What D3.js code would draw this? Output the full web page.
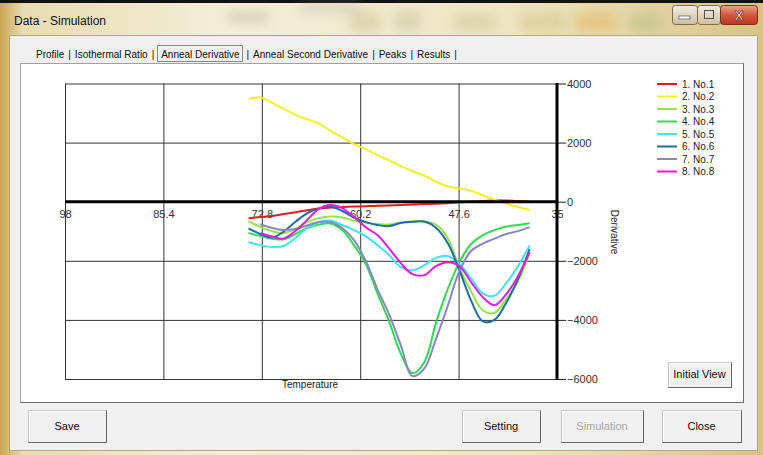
<!DOCTYPE html>
<html><head><meta charset="utf-8">
<script src="https://cdn.jsdelivr.net/npm/d3@7/dist/d3.min.js"></script>
<style>
html,body{margin:0;padding:0;overflow:hidden;background:#fff}
svg text{font-family:"Liberation Sans",Arial,sans-serif}
</style></head><body>
<svg id="c" width="763" height="455"></svg>
<script>
// ---------- data ----------
const temps = [74.5,73,71.5,70,68.5,67,65.5,64,62.5,61,59.5,58,56.5,55,53.5,52,50.5,49,47.5,46,44.5,43,41.5,40,38.5];
const no1 = [-560,-520,-480,-420,-360,-290,-230,-200,-180,-165,-150,-140,-125,-110,-95,-80,-70,-50,-20,0,20,50,40,20,10];
const no2 = [3480,3530,3350,3140,2940,2790,2650,2400,2180,1950,1780,1575,1400,1210,1030,880,680,520,450,365,220,75,-65,-180,-280];
const no3 = [-655,-850,-995,-1060,-925,-690,-555,-500,-535,-640,-705,-755,-775,-705,-670,-670,-775,-1230,-2250,-3030,-3680,-3760,-3300,-2700,-1720];
const no4 = [-1060,-1160,-1250,-1275,-1095,-890,-775,-740,-960,-1470,-2100,-3100,-4050,-5150,-5800,-5430,-4100,-2960,-2045,-1430,-1130,-960,-840,-790,-730];
const no5 = [-1375,-1470,-1535,-1500,-1230,-890,-690,-640,-790,-960,-1165,-1470,-1805,-2215,-2320,-2150,-1900,-1840,-2100,-2590,-3100,-3180,-2755,-2180,-1485];
const no6 = [-900,-1095,-1215,-1015,-680,-395,-225,-170,-315,-535,-690,-790,-825,-720,-680,-670,-880,-1400,-2315,-3350,-4050,-4000,-3420,-2620,-1600];
const no7 = [null,-765,-890,-960,-925,-805,-690,-690,-890,-1300,-2000,-2960,-3810,-4860,-5900,-5650,-4650,-3535,-2350,-1670,-1415,-1250,-1095,-995,-860];
const no8 = [null,-1070,-1180,-1250,-990,-620,-240,-110,-215,-520,-860,-1130,-1580,-2080,-2450,-2485,-2180,-2045,-2180,-2720,-3230,-3500,-3130,-2520,-1705];
const seriesNames = ["1. No.1","2. No.2","3. No.3","4. No.4","5. No.5","6. No.6","7. No.7","8. No.8"];
const seriesColors = ["#e01e1e","#f4f01c","#98e43e","#2fdc52","#3ee6f0","#1b6ea6","#8a86c2","#e21ce0"];
const xTicks = [98,85.4,72.8,60.2,47.6,35];
const xTickLabels = ["98","85.4","72.8","60.2","47.6","35"];
const yTicks = [4000,2000,0,-2000,-4000,-6000];
const tabNames = ["Profile","Isothermal Ratio","Anneal Derivative","Anneal Second Derivative","Peaks","Results"];
const buttonNames = ["Save","Setting","Simulation","Close"];

const series = [no1,no2,no3,no4,no5,no6,no7,no8];

// ---------- chrome ----------
const svg = d3.select("#c");
const defs = svg.append("defs");
const g1 = defs.append("linearGradient").attr("id","frame").attr("x1",0).attr("x2",1).attr("y1",0).attr("y2",0);
g1.append("stop").attr("offset",0).attr("stop-color","#c9a553");
g1.append("stop").attr("offset",0.03).attr("stop-color","#e9dcb2");
g1.append("stop").attr("offset",0.3).attr("stop-color","#f4eed8");
g1.append("stop").attr("offset",0.7).attr("stop-color","#eee4c0");
g1.append("stop").attr("offset",1).attr("stop-color","#d9c284");
defs.append("filter").attr("id","blur").attr("x","-50%").attr("y","-50%").attr("width","200%").attr("height","200%")
  .append("feGaussianBlur").attr("stdDeviation",6);
const gMin = defs.append("linearGradient").attr("id","wb").attr("x1",0).attr("x2",0).attr("y1",0).attr("y2",1);
gMin.append("stop").attr("offset",0).attr("stop-color","#f4eee0");
gMin.append("stop").attr("offset",1).attr("stop-color","#cdbf9f");
const gCl = defs.append("linearGradient").attr("id","wc").attr("x1",0).attr("x2",0).attr("y1",0).attr("y2",1);
gCl.append("stop").attr("offset",0).attr("stop-color","#e9a58f");
gCl.append("stop").attr("offset",0.5).attr("stop-color","#d05a3c");
gCl.append("stop").attr("offset",1).attr("stop-color","#c0341c");

svg.append("rect").attr("width",763).attr("height",455).attr("fill","url(#frame)");
svg.append("rect").attr("width",763).attr("height",3).attr("fill","#111");
// blurred background icons
const blobs = [[228,12,40,10,"#b0a480"],[350,12,30,20,"#c4bc88"],[395,12,25,18,"#bdbb95"],[455,14,40,16,"#c8bc90"],[520,12,45,20,"#cfc080"],[575,12,40,20,"#e0b050"],[630,14,30,18,"#a8bc78"],[300,5,60,6,"#a0a0a0"]];
svg.append("g").attr("filter","url(#blur)").attr("opacity",0.45).selectAll("rect").data(blobs).join("rect")
  .attr("x",d=>d[0]).attr("y",d=>d[1]).attr("width",d=>d[2]).attr("height",d=>d[3]).attr("fill",d=>d[4]);
svg.append("text").attr("x",14).attr("y",25).attr("font-size",12).attr("fill","#111").text("Data - Simulation");
// window buttons
svg.append("rect").attr("x",672.5).attr("y",5.5).attr("width",25).attr("height",19).attr("rx",3).attr("fill","url(#wb)").attr("stroke","#7d6e52");
svg.append("rect").attr("x",679).attr("y",16).attr("width",11).attr("height",3).attr("fill","#fff").attr("stroke","#555").attr("stroke-width",0.7);
svg.append("rect").attr("x",697.5).attr("y",5.5).attr("width",23).attr("height",19).attr("rx",3).attr("fill","url(#wb)").attr("stroke","#7d6e52");
svg.append("rect").attr("x",704.5).attr("y",10.5).attr("width",9).attr("height",8).attr("fill","none").attr("stroke","#555").attr("stroke-width",1);
svg.append("rect").attr("x",720.5).attr("y",5.5).attr("width",37).attr("height",19).attr("rx",3).attr("fill","url(#wc)").attr("stroke","#7a3020");
svg.append("text").attr("x",739).attr("y",20).attr("text-anchor","middle").attr("font-size",13).attr("font-weight","bold").attr("fill","#fff").attr("stroke","#6a2a1a").attr("stroke-width",0.6).text("X");

// client area
svg.append("rect").attr("x",9.5).attr("y",35.5).attr("width",748).attr("height",415).attr("fill","#f0f0f0").attr("stroke","#b8a878");

// tabs: laid out one after another
const tg = svg.append("g").attr("font-size",10).attr("fill","#111");
let tx = 36;
tabNames.forEach((name,i)=>{
  const sel = i===2;
  if (sel) tx += 3;
  const t = tg.append("text").attr("x",tx).attr("y",58).text(name);
  const w = t.node().getComputedTextLength();
  if (sel) svg.append("rect").attr("x",Math.round(tx-4)+0.5).attr("y",45.5).attr("width",Math.round(w+7)).attr("height",16)
      .attr("fill","none").attr("stroke","#222").attr("stroke-dasharray","1,1");
  tx += w + (sel ? 7 : 4);
  tg.append("text").attr("x",tx).attr("y",58).text("|");
  tx += 6.5;
});

// panel
svg.append("rect").attr("x",20.5).attr("y",63.5).attr("width",723).attr("height",339).attr("fill","#fff").attr("stroke","#a0a0a0");
svg.append("path").attr("d","M743.5,63.5V402.5H20.5").attr("fill","none").attr("stroke","#6a6a6a");

// ---------- chart ----------
const x = d3.scaleLinear().domain([98,35]).range([65,557]);
const y = d3.scaleLinear().domain([-6000,4000]).range([379,83.5]);

const grid = svg.append("g");
grid.append("g").attr("transform","translate(65,0)")
  .call(d3.axisLeft(y).tickValues(yTicks).tickSize(-(557-65)).tickFormat(""))
  .call(g=>g.select(".domain").remove())
  .call(g=>g.selectAll("line").attr("stroke","#333"));
grid.append("g").attr("transform","translate(0,83.5)")
  .call(d3.axisTop(x).tickValues(xTicks).tickSize(-(379-83.5)).tickFormat(""))
  .call(g=>g.select(".domain").remove())
  .call(g=>g.selectAll("line").attr("stroke","#333"));

// x labels
svg.append("g").attr("transform",`translate(0,${y(0)})`)
  .call(d3.axisBottom(x).tickValues(xTicks).tickSize(0).tickPadding(9).tickFormat((d,i)=>xTickLabels[i]))
  .call(g=>g.select(".domain").remove())
  .call(g=>g.selectAll("text").attr("font-size",11).attr("fill","#333").attr("font-family","Liberation Sans, Arial, sans-serif"));

// lines
const line = d3.line().defined(d=>d[1]!=null).x(d=>x(d[0])).y(d=>y(d[1])).curve(d3.curveCatmullRom.alpha(0.5));
svg.append("g").selectAll("path").data(series).join("path")
  .attr("d",s=>line(temps.map((t,i)=>[t,s[i]])))
  .attr("fill","none").attr("stroke",(d,i)=>seriesColors[i]).attr("stroke-width",2).attr("stroke-linejoin","round");

// zero line
svg.append("line").attr("x1",x(98)).attr("x2",x(35)).attr("y1",y(0)).attr("y2",y(0)).attr("stroke","#000").attr("stroke-width",3);

// right axis
svg.append("g").attr("transform","translate(557,0)")
  .call(d3.axisRight(y).tickValues(yTicks).tickSize(9).tickPadding(1).tickFormat(d3.format("d")))
  .call(g=>g.select(".domain").remove())
  .call(g=>g.selectAll("line").attr("stroke","#222"))
  .call(g=>g.selectAll("text").attr("font-size",11).attr("fill","#333").attr("font-family","Liberation Sans, Arial, sans-serif"));
svg.append("line").attr("x1",557).attr("x2",557).attr("y1",y(4000)-0.5).attr("y2",y(-6000)+1).attr("stroke","#000").attr("stroke-width",3);

// axis titles
svg.append("text").attr("x",310).attr("y",388).attr("text-anchor","middle").attr("font-size",10).attr("fill","#222").text("Temperature");
svg.append("text").attr("transform","translate(611,232) rotate(90)").attr("text-anchor","middle").attr("font-size",10).attr("fill","#222").text("Derivative");

// legend
const lg = svg.append("g").selectAll("g").data(seriesNames).join("g").attr("transform",(d,i)=>`translate(657,${84+i*12.5})`);
lg.append("line").attr("x1",0).attr("x2",20).attr("stroke",(d,i)=>seriesColors[i]).attr("stroke-width",2);
lg.append("text").attr("x",25).attr("y",0).attr("dy","0.35em").attr("font-size",10).attr("fill","#222").text(d=>d);

// buttons
function button(bx,by,bw,bh,label,color){
  const b = svg.append("g");
  b.append("rect").attr("x",bx+0.5).attr("y",by+0.5).attr("width",bw).attr("height",bh).attr("fill","#f0f0f0").attr("stroke","#c8c8c8");
  b.append("path").attr("d",`M${bx+0.5},${by+bh+0.5}H${bx+bw+0.5}V${by+0.5}`).attr("fill","none").attr("stroke","#646464");
  b.append("path").attr("d",`M${bx+1.5},${by+bh-0.5}V${by+1.5}H${bx+bw-0.5}`).attr("fill","none").attr("stroke","#fff");
  b.append("text").attr("x",bx+bw/2).attr("y",by+bh/2).attr("dy","0.35em").attr("text-anchor","middle").attr("font-size",11).attr("fill",color).text(label);
}
const btnX = [28,462,561,662];
const btnW = [78,78,82,79];
buttonNames.forEach((n,i)=>button(btnX[i],410,btnW[i],32,n,n==="Simulation"?"#a8a8a8":"#111"));
button(668,362,63,25,"Initial View","#111");
</script>
</body></html>
